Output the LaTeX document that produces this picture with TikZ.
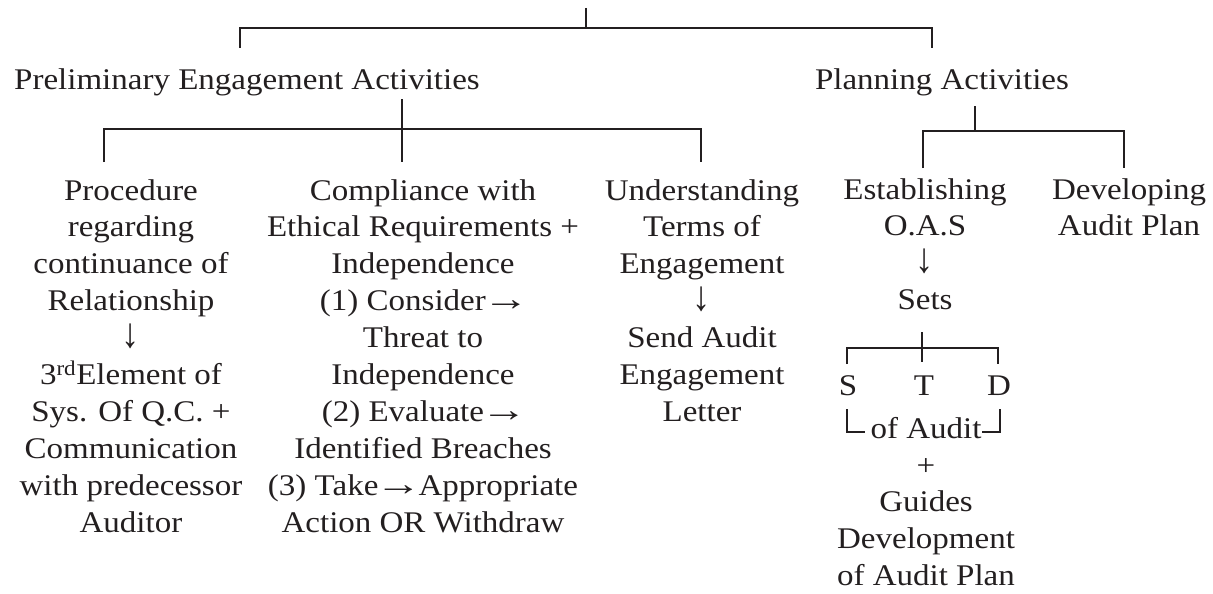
\documentclass[tikz,border=0pt]{standalone}
\usepackage{fontspec}
\setmainfont{Liberation Serif}[FakeStretch=1.1]
\definecolor{ink}{RGB}{35,31,32}
\newcommand\myra{\kern-3pt\scalebox{1.4}[1.15]{→}\kern-3pt}
\newcommand\myda{\scalebox{1.1}[1.4]{↓}}
\begin{document}
\begin{tikzpicture}[x=1pt,y=-1pt,
  txt/.style={font=\fontsize{30}{36.9}\selectfont, align=center, inner sep=0pt, anchor=base, text=ink},
  ln/.style={draw=ink, line width=1.4pt},
  lnt/.style={draw=ink, line width=1.9pt},
  lnk/.style={draw=ink, line width=2.5pt}]
\useasboundingbox (0,0) rectangle (1213,594);
% level 1
\node[txt] (pea) at (247,89) {Preliminary Engagement Activities};
\node[txt] (pa) at (942,89) {Planning Activities};
\coordinate (top) at (586,8);
\coordinate (tj) at (586,28);
\coordinate (tl) at (240,48);
\coordinate (tr) at (932,48);
\draw[lnt] (top) -- (tj);
\draw[lnt] (tl) |- (tj) -| (tr);
% level 2 (preliminary) -- base anchor is the baseline of the last line
\node[txt] (c1) at (131,532.1) {Procedure\\regarding\\continuance of\\Relationship\\\myda\\3\textsuperscript{rd}Element of\\Sys. Of Q.C. +\\Communication\\with predecessor\\Auditor};
\node[txt] (c2) at (423,532.1) {Compliance with\\Ethical Requirements +\\Independence\\(1) Consider\myra\\Threat to\\Independence\\(2) Evaluate\myra\\Identified Breaches\\(3) Take\myra Appropriate\\Action OR Withdraw};
\node[txt] (c3) at (702,421.4) {Understanding\\Terms of\\Engagement\\\myda\\Send Audit\\Engagement\\Letter};
\coordinate (pv) at (402,99);
\coordinate (pj) at (402,129);
\coordinate (pm) at (402,162);
\coordinate (pl) at (104,162);
\coordinate (pr) at (701,162);
\draw[ln] (pv) -- (pm);
\draw[ln] (pl) |- (pj) -| (pr);
% level 2 (planning)
\node[txt] (c4) at (925,309.7) {Establishing\\O.A.S\\\myda\\Sets};
\node[txt] (c5) at (1129,235.9) {Developing\\Audit Plan};
\coordinate (qv) at (975,106);
\coordinate (qj) at (975,131);
\coordinate (ql) at (923,168);
\coordinate (qr) at (1124,168);
\draw[lnk] (qv) -- (qj);
\draw[lnk] (ql) |- (qj) -| (qr);
% S T D
\node[txt] (s) at (848,395) {S};
\node[txt] (t) at (924,395) {T};
\node[txt] (d) at (999,395) {D};
\coordinate (sv) at (922,332);
\coordinate (sj) at (922,348);
\coordinate (sm) at (922,362);
\coordinate (sl) at (847,364);
\coordinate (sr) at (998,364);
\draw[ln] (sv) -- (sm);
\draw[ln] (sl) |- (sj) -| (sr);
\node[txt] (oa) at (926,438) {of Audit};
\coordinate (ba) at (847,409);
\coordinate (bb) at (865,432);
\coordinate (bc) at (1000,409);
\coordinate (bd) at (982,432);
\draw[ln] (ba) |- (bb);
\draw[ln] (bc) |- (bd);
\node[txt] (g) at (926,585.7) {+\\Guides\\Development\\of Audit Plan};
\end{tikzpicture}
\end{document}
